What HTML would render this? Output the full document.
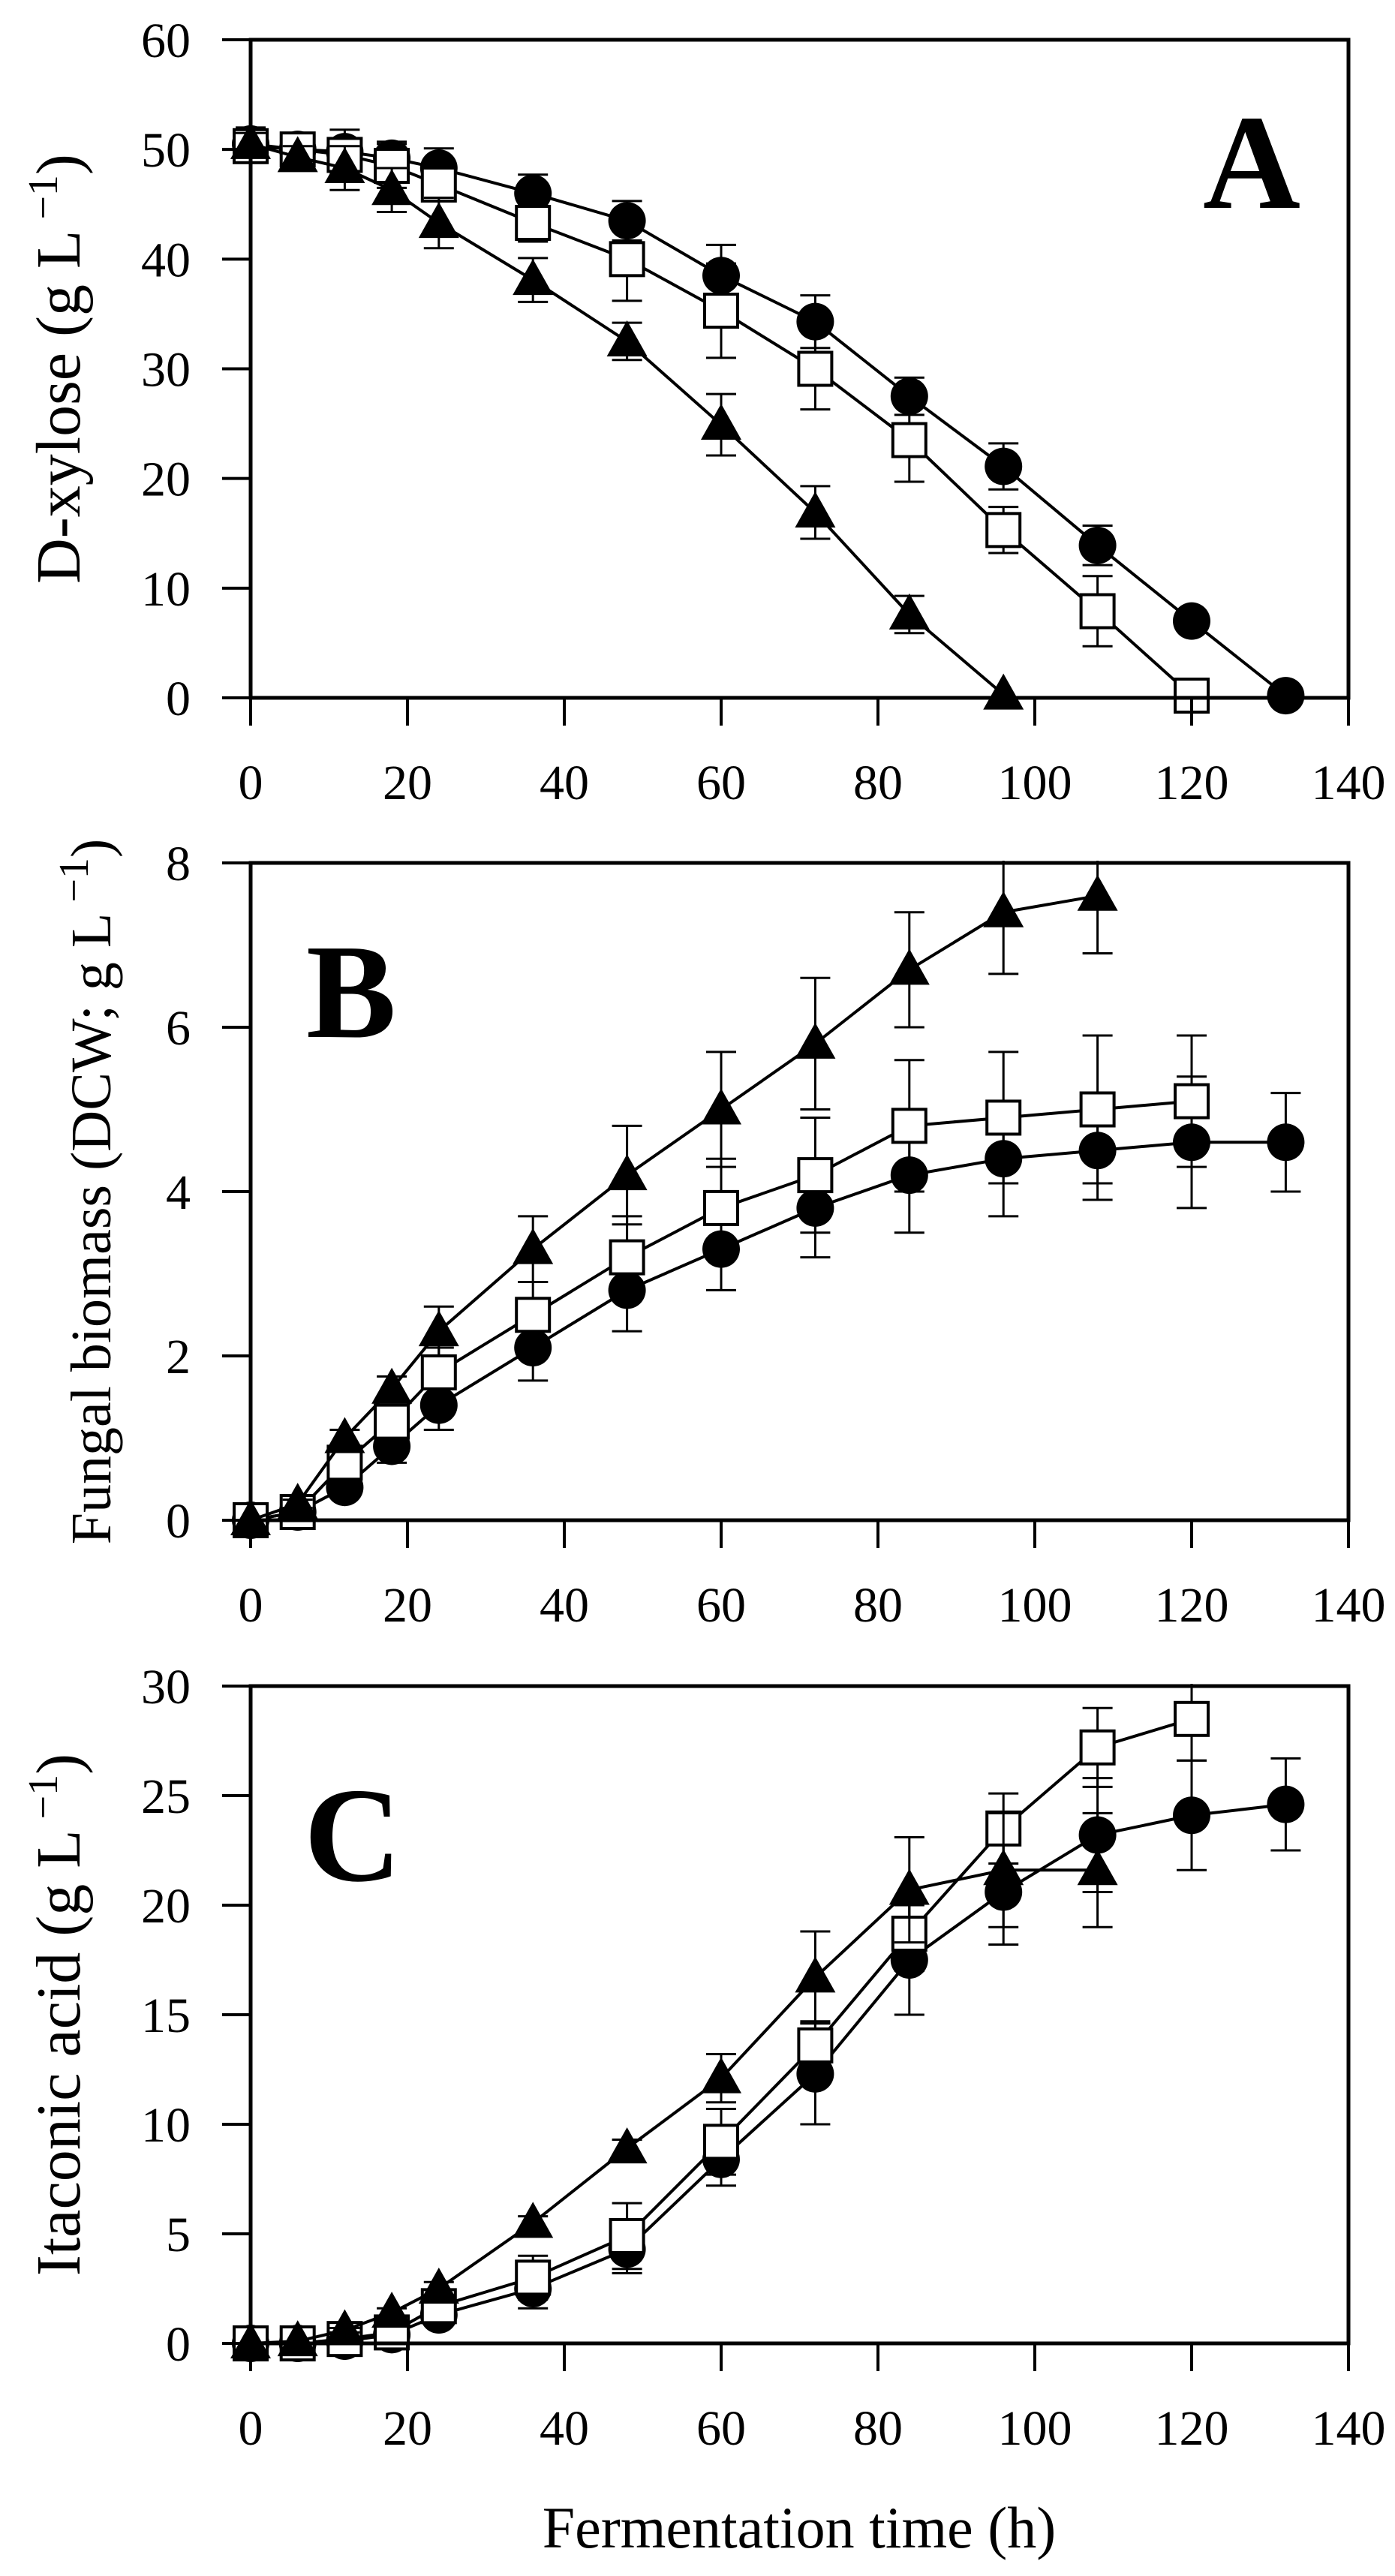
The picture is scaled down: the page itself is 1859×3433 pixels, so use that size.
<!DOCTYPE html>
<html><head><meta charset="utf-8"><style>
html,body{margin:0;padding:0;background:#fff}
svg{display:block}
text{font-family:"Liberation Serif",serif;fill:#000}
</style></head><body>
<svg id="fig" width="1859" height="3433" viewBox="0 0 1859 3433" xmlns="http://www.w3.org/2000/svg"></svg>
<script>
const times = [0,6,12,18,24,36,48,60,72,84,96,108,120,132];
const xTicks = [0,20,40,60,80,100,120,140];
// Panel A: D-xylose
const aCircle = [50.5,50,49.8,49.2,48.3,46,43.5,38.5,34.3,27.5,21.1,13.9,7.0,0.2];
const aCircleErr = [1.5,1.5,2,1.5,1.8,1.7,1.8,2.8,2.4,1.7,2.1,1.8,0.5,0];
const aSquare = [50.3,50,49.5,48.5,46.8,43.3,40,35.3,30,23.5,15.3,7.9,0.2];
const aSquareErr = [1,1.2,1.5,2,1.5,1.7,3.8,4.3,3.7,3.8,2.1,3.2,0];
const aTri = [50.5,49.3,48.3,46.3,43.3,38.1,32.5,24.9,16.9,7.6,0.3];
const aTriErr = [1,1,2,2,2.3,2,1.7,2.8,2.4,1.7,0];
const aYTicks = [0,10,20,30,40,50,60];
// Panel B: biomass
const bCircle = [0,0.1,0.4,0.9,1.4,2.1,2.8,3.3,3.8,4.2,4.4,4.5,4.6,4.6];
const bCircleErr = [0,0,0.1,0.2,0.3,0.4,0.5,0.5,0.6,0.7,0.7,0.6,0.8,0.6];
const bSquare = [0,0.1,0.7,1.2,1.8,2.5,3.2,3.8,4.2,4.8,4.9,5.0,5.1];
const bSquareErr = [0,0.05,0.1,0.2,0.3,0.4,0.5,0.6,0.7,0.8,0.8,0.9,0.8];
const bTri = [0,0.2,1.0,1.6,2.3,3.3,4.2,5.0,5.8,6.7,7.4,7.6];
const bTriErr = [0,0.05,0.1,0.15,0.3,0.4,0.6,0.7,0.8,0.7,0.75,0.7];
const bYTicks = [0,2,4,6,8];
// Panel C: itaconic acid
const cCircle = [0,0,0.1,0.4,1.3,2.5,4.3,8.4,12.3,17.5,20.6,23.2,24.1,24.6];
const cCircleErr = [0,0,0,0.1,0.2,0.9,1.1,1.2,2.3,2.5,2.4,2.6,2.5,2.1];
const cSquare = [0,0,0.2,0.5,1.7,3.0,4.9,9.2,13.6,18.7,23.5,27.2,28.5];
const cSquareErr = [0,0,0.1,0.2,0.3,1,1.5,1.5,1.1,1.7,1.6,1.8,1.9];
const cTri = [0,0.1,0.6,1.4,2.5,5.5,8.9,12.1,16.7,20.7,21.6,21.6];
const cTriErr = [0,0,0.1,0.2,0.3,0.3,0.4,1.1,2.1,2.4,2.6,2.6];
const cYTicks = [0,5,10,15,20,25,30];

const NS = "http://www.w3.org/2000/svg";
const svg = document.getElementById('fig');
function mk(tag, attrs, parent){ const e=document.createElementNS(NS,tag); for(const k in attrs) e.setAttribute(k,attrs[k]); (parent||svg).appendChild(e); return e; }

const L=334, R=1797;
function panel(id, top, bottom, ymax, yTicks, series, letter, letterX, letterY, title, titleSize, titleX){
  const g = mk('g',{});
  
  
  const xs = v => L + (R-L)*v/140;
  const ys = v => bottom - (bottom-top)*v/ymax;
  // clip for data
  const cp = mk('clipPath',{id:'clip'+id}, g);
  mk('rect',{x:0,y:top-3,width:1859,height:bottom-top+80}, cp);
  // series
  series.forEach(s=>{
    const sg = mk('g',{'clip-path':'url(#clip'+id+')'}, g);
    
    
    const pts = s.vals.map((v,i)=>xs(times[i])+','+ys(v)).join(' ');
    mk('polyline',{points:pts,fill:'none',stroke:'#000','stroke-width':4}, sg);
    s.vals.forEach((v,i)=>{
      const e = s.err[i]; if(!e) return;
      const x=xs(times[i]), y1=ys(v+e), y2=ys(v-e);
      const eb = mk('path',{d:`M${x},${y1}V${y2}M${x-20},${y1}H${x+20}M${x-20},${y2}H${x+20}`,stroke:'#000','stroke-width':3,fill:'none'}, sg);
      
      
    });
    s.vals.forEach((v,i)=>{
      const x=xs(times[i]), y=ys(v); let m;
      if(s.shape==='circle') m=mk('circle',{cx:x,cy:y,r:25,fill:'#000'}, sg);
      else if(s.shape==='square') m=mk('rect',{x:x-22,y:y-22,width:44,height:44,fill:'#fff',stroke:'#000','stroke-width':4}, sg);
      else m=mk('polygon',{points:`${x},${y-28} ${x+27},${y+20} ${x-27},${y+20}`,fill:'#000'}, sg);
      
      
    });
  });
  // frame
  const fr = mk('rect',{x:L,y:top,width:R-L,height:bottom-top,fill:'none',stroke:'#000','stroke-width':5}, g);
  
  
  // x ticks
  xTicks.forEach(t=>{
    const x=xs(t);
    mk('line',{x1:x,y1:bottom,x2:x,y2:bottom+37,stroke:'#000','stroke-width':4}, g);
    const tx = mk('text',{x:x,y:bottom+135,'font-size':66,'text-anchor':'middle'}, g);
    tx.textContent=t;
    
    
  });
  yTicks.forEach(t=>{
    const y=ys(t);
    mk('line',{x1:L-38,y1:y,x2:L,y2:y,stroke:'#000','stroke-width':4}, g);
    const tx = mk('text',{x:254,y:y+23,'font-size':66,'text-anchor':'end'}, g);
    tx.textContent=t;
    
    
  });
  const lt = mk('text',{x:letterX,y:letterY,'font-size':180,'font-weight':'bold'}, g);
  lt.textContent=letter;
  
  
  const cy=(top+bottom)/2;
  const tt = mk('text',{x:titleX,y:cy,'font-size':titleSize,'text-anchor':'middle',transform:`rotate(-90 ${titleX} ${cy})`}, g);
  tt.innerHTML = title;
  
  
}

panel('a',53,930,60,aYTicks,[
  {name:'circle',shape:'circle',vals:aCircle,err:aCircleErr},
  {name:'square',shape:'square',vals:aSquare,err:aSquareErr},
  {name:'triangle',shape:'triangle',vals:aTri,err:aTriErr}],
  'A',1603,277,'D-xylose (g L<tspan dy="-30" font-size="56"> \u22121</tspan><tspan dy="30">)</tspan>',84,106);
panel('b',1150,2026,8,bYTicks,[
  {name:'circle',shape:'circle',vals:bCircle,err:bCircleErr},
  {name:'square',shape:'square',vals:bSquare,err:bSquareErr},
  {name:'triangle',shape:'triangle',vals:bTri,err:bTriErr}],
  'B',408,1382,'Fungal biomass (DCW; g L<tspan dy="-30" font-size="56"> \u22121</tspan><tspan dy="30">)</tspan>',76,147);
panel('c',2247,3123,30,cYTicks,[
  {name:'circle',shape:'circle',vals:cCircle,err:cCircleErr},
  {name:'square',shape:'square',vals:cSquare,err:cSquareErr},
  {name:'triangle',shape:'triangle',vals:cTri,err:cTriErr}],
  'C',405,2506,'Itaconic acid (g L<tspan dy="-30" font-size="56"> \u22121</tspan><tspan dy="30">)</tspan>',84,106);

const xl = mk('text',{x:1065,y:3395,'font-size':78,'text-anchor':'middle'});
xl.textContent='Fermentation time (h)';


</script>
</body></html>
